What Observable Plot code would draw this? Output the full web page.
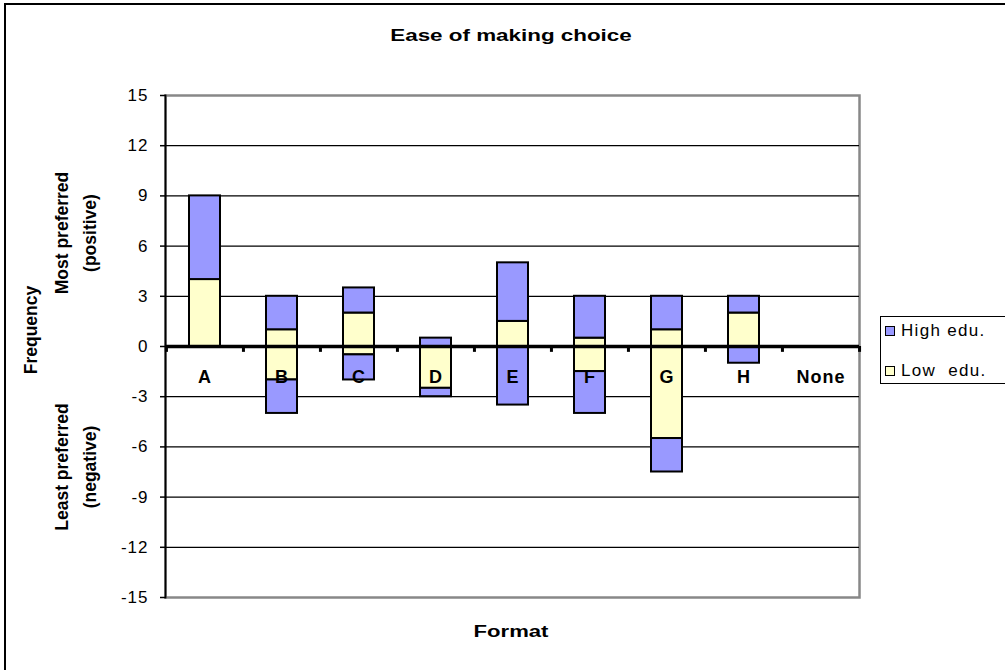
<!DOCTYPE html>
<html><head><meta charset="utf-8">
<script src="https://cdn.jsdelivr.net/npm/d3@7"></script>
<script src="https://cdn.jsdelivr.net/npm/@observablehq/plot@0.6"></script>
<style>
body{margin:0;width:1005px;height:670px;overflow:hidden;position:relative;background:#fff;font-family:"Liberation Sans",Arial,sans-serif;color:#000;}
#frame{position:absolute;left:4px;top:3px;width:1200px;height:900px;border:2px solid #000;}
#chart{position:absolute;left:0;top:0;}
.lbl{position:absolute;font-weight:bold;white-space:nowrap;font-size:16px;}
.rot{position:absolute;font-weight:bold;white-space:nowrap;font-size:17.5px;text-align:center;line-height:27.5px;transform:translate(-50%,-50%) rotate(-90deg);}
#legend{position:absolute;left:880px;top:316px;width:150px;height:66px;border:1.5px solid #000;background:#fff;font-size:17px;letter-spacing:1.3px;}
.item{position:absolute;left:4px;display:flex;align-items:center;white-space:pre;}
.sw{width:8px;height:8px;border:1.5px solid #000;margin-right:6px;}
.yax text{letter-spacing:1px;}
.cat text{letter-spacing:1px;}
</style></head>
<body>
<div id="frame"></div>
<div id="chart"></div>
<div class="lbl" id="title" style="left:511px;top:36px;transform:translate(-50%,-50%) scaleX(1.4);">Ease of making choice</div>
<div class="lbl" style="left:511px;top:632px;transform:translate(-50%,-50%) scaleX(1.38);">Format</div>
<div class="rot" style="left:32px;top:330px;">Frequency</div>
<div class="rot" style="left:76px;top:233px;">Most preferred<br>(positive)</div>
<div class="rot" style="left:76px;top:467px;">Least preferred<br>(negative)</div>
<div id="legend"></div>
<script>
const categories = ["A","B","C","D","E","F","G","H","None"];
const seriesNames = ["High edu.","Low  edu."];
const seriesColors = ["#9999FF","#FFFFCC"];
const highPositive = [5, 2, 1.5, 0.5, 3.5, 2.5, 2, 1, 0];
const lowPositive  = [4, 1, 2, 0, 1.5, 0.5, 1, 2, 0];
const highNegative = [0, -2, -1.5, -0.5, -3.5, -2.5, -2, -1, 0];
const lowNegative  = [0, -2, -0.5, -2.5, 0, -1.5, -5.5, 0, 0];
const yTicks = [-15, -12, -9, -6, -3, 0, 3, 6, 9, 12, 15];

const rows = [];
categories.forEach((c, i) => {
  rows.push({cat: c, series: seriesNames[1], value: lowPositive[i]});
  rows.push({cat: c, series: seriesNames[0], value: highPositive[i]});
  rows.push({cat: c, series: seriesNames[1], value: lowNegative[i]});
  rows.push({cat: c, series: seriesNames[0], value: highNegative[i]});
});
const bars = rows.filter(d => d.value !== 0);

const W = 1005, H = 670, mL = 165, mR = 146, mT = 95, mB = 73;
const step = (W - mL - mR) / categories.length;

const chart = Plot.plot({
  width: W, height: H,
  marginLeft: mL, marginRight: mR, marginTop: mT, marginBottom: mB,
  style: {fontFamily: "Liberation Sans, Arial, sans-serif", fontSize: "16px", color: "black", background: "transparent"},
  x: {domain: categories, paddingInner: 0.6, paddingOuter: 0.3, axis: null},
  y: {domain: [-15, 15], axis: null},
  color: {domain: seriesNames, range: seriesColors},
  marks: [
    Plot.frame({stroke: "#888", strokeWidth: 2.5}),
    Plot.ruleY(yTicks.filter(t => t !== 0 && Math.abs(t) !== 15), {stroke: "black", strokeWidth: 1.2}),
    Plot.frame({anchor: "left", stroke: "black", strokeWidth: 1.8}),
    Plot.axisY(yTicks, {label: null, tickSize: 5, tickPadding: 12, fontSize: 17, tickFormat: d => String(d), strokeWidth: 1.5, className: "yax"}),
    Plot.barY(bars, Plot.stackY({x: "cat", y: "value", fill: "series", order: null, stroke: "black", strokeWidth: 2})),
    Plot.ruleY([0], {stroke: "black", strokeWidth: 3.5}),
    Plot.ruleX(categories, {x: d => d, y1: 0, y2: -0.35, dx: -step / 2, stroke: "black", strokeWidth: 3}),
    Plot.ruleX(categories.slice(-1), {x: d => d, y1: 0, y2: -0.35, dx: step / 2, stroke: "black", strokeWidth: 3}),
    Plot.text(categories, {x: d => d, y: 0, dy: 31, text: d => d, fontWeight: "bold", fontSize: 18, className: "cat"})
  ]
});
document.getElementById("chart").appendChild(chart);

const legend = document.getElementById("legend");
seriesNames.forEach((s, i) => {
  const it = document.createElement("div");
  it.className = "item";
  it.style.top = (i === 0 ? 4 : 44) + "px";
  it.style.height = "20px";
  const sw = document.createElement("div");
  sw.className = "sw";
  sw.style.background = seriesColors[i];
  const tx = document.createElement("span");
  tx.textContent = s;
  it.appendChild(sw); it.appendChild(tx);
  legend.appendChild(it);
});
</script>
</body></html>
